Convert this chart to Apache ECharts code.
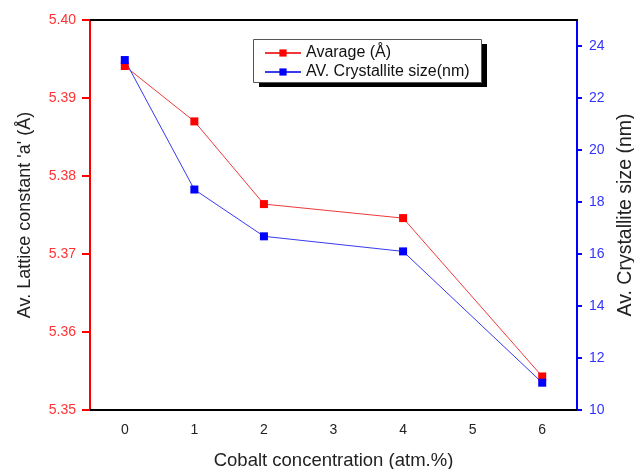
<!DOCTYPE html>
<html>
<head>
<meta charset="utf-8">
<script src="https://cdn.jsdelivr.net/npm/echarts@6/dist/echarts.min.js"></script>
<style>html,body{margin:0;padding:0;background:#fff}#c{width:634px;height:469px}</style>
</head>
<body>
<div id="c"></div>
<script>
const categories = ['0', '1', '2', '3', '4', '5', '6'];
const xPoints = ['0', '1', '2', '4', '6'];
const latticeValues = [5.3941, 5.3870, 5.3764, 5.3746, 5.3543];
const sizeValues = [23.46, 18.48, 16.68, 16.10, 11.05];
const seriesNames = ['Avarage (Å)', 'AV. Crystallite size(nm)'];

const FONT = 'Liberation Sans, Arial, sans-serif';
const chart = echarts.init(document.getElementById('c'), null, {renderer: 'canvas'});
chart.setOption({
  animation: false,
  backgroundColor: '#fff',
  textStyle: {fontFamily: FONT},
  grid: {left: 90, right: 57, top: 20, bottom: 59, containLabel: false, outerBoundsMode: 'none'},
  graphic: [
    {type: 'rect', left: 259, top: 44, z: 90, shape: {width: 228, height: 43},
     style: {fill: '#000'}},
    {type: 'rect', left: 253, top: 39, z: 91, shape: {width: 228, height: 43},
     style: {fill: '#fff', stroke: '#555', lineWidth: 1}}
  ],
  legend: {
    orient: 'vertical',
    left: 264, top: 45, z: 100,
    padding: 0,
    itemWidth: 36, itemHeight: 9, itemGap: 3,
    textStyle: {fontFamily: FONT, fontSize: 16, color: '#111', padding: [0, 0, 0, 0]},
    data: seriesNames
  },
  xAxis: [{
    type: 'category', data: categories, boundaryGap: true, position: 'bottom',
    name: 'Cobalt concentration (atm.%)', nameLocation: 'middle', nameGap: 41,
    nameTextStyle: {fontFamily: FONT, fontSize: 18.5, color: '#222'},
    axisLine: {lineStyle: {color: '#000', width: 2}},
    axisTick: {alignWithLabel: true, length: 8, lineStyle: {color: '#000', width: 2}},
    axisLabel: {fontFamily: FONT, fontSize: 14, color: '#222', margin: 13},
    splitLine: {show: false}
  }, {
    type: 'category', data: categories, boundaryGap: true, position: 'top',
    axisLine: {lineStyle: {color: '#000', width: 2}},
    axisTick: {inside: true, alignWithLabel: true, length: 6, lineStyle: {color: '#000', width: 2}},
    axisLabel: {show: false},
    splitLine: {show: false}
  }],
  yAxis: [{
    type: 'value', position: 'left', min: 5.35, max: 5.40, interval: 0.01,
    name: "Av. Lattice constant 'a' (Å)", nameLocation: 'middle', nameGap: 56,
    nameTextStyle: {fontFamily: FONT, fontSize: 18, color: '#222'},
    axisLine: {show: true, lineStyle: {color: '#ff0000', width: 2}},
    axisTick: {show: true, length: 8, lineStyle: {color: '#ff0000', width: 2}},
    axisLabel: {fontFamily: FONT, fontSize: 14, color: '#ff3333', margin: 14,
      formatter: v => v.toFixed(2)},
    splitLine: {show: false}
  }, {
    type: 'value', position: 'right', min: 10, max: 25, interval: 2,
    name: 'Av. Crystallite size (nm)', nameLocation: 'middle', nameGap: 35,
    nameRotate: 90,
    nameTextStyle: {fontFamily: FONT, fontSize: 19.5, color: '#222'},
    axisLine: {show: true, lineStyle: {color: '#0000ff', width: 2}},
    axisTick: {show: true, length: 5, lineStyle: {color: '#0000ff', width: 2}},
    axisLabel: {fontFamily: FONT, fontSize: 14, color: '#3333ff', margin: 12,
      showMaxLabel: false,
      formatter: v => (v === 25 ? '' : String(v))},
    splitLine: {show: false}
  }],
  series: [{
    name: seriesNames[0], type: 'line', xAxisIndex: 0, yAxisIndex: 0,
    data: xPoints.map((x, i) => [x, latticeValues[i]]),
    symbol: 'rect', symbolSize: 8,
    itemStyle: {color: '#ff0000'},
    lineStyle: {color: '#ee3a3a', width: 1}
  }, {
    name: seriesNames[1], type: 'line', xAxisIndex: 0, yAxisIndex: 1,
    data: xPoints.map((x, i) => [x, sizeValues[i]]),
    symbol: 'rect', symbolSize: 8,
    itemStyle: {color: '#0000ff'},
    lineStyle: {color: '#3a3aee', width: 1}
  }]
});
</script>
</body>
</html>
